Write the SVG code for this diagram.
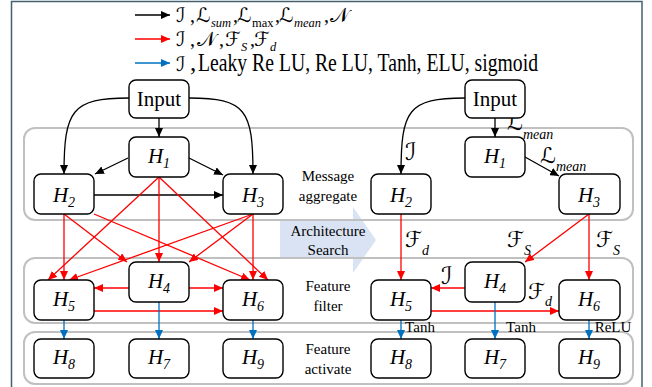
<svg xmlns="http://www.w3.org/2000/svg" width="652" height="387" viewBox="0 0 652 387">
  <style>
    .frame { fill: none; stroke: #44606e; stroke-width: 1.5; }
    .panel { fill: none; stroke: #c0c0c0; stroke-width: 2; }
    .box { fill: #ffffff; stroke: #000000; stroke-width: 1.4; }
    .lbl { font-family: 'Liberation Serif', 'Times New Roman', serif; fill: #000; }
    .h { font-family: 'Liberation Serif', 'Times New Roman', serif; font-style: italic; font-size: 21px; fill: #000; }
    .sub { font-size: 14px; }
    .cap { font-family: 'Liberation Serif', 'Times New Roman', serif; font-size: 15px; fill: #000; text-anchor: middle; }
    .math { font-family: 'DejaVu Sans', sans-serif; fill: #000; }
    .msub { font-family: 'Liberation Serif', 'Times New Roman', serif; font-style: italic; font-size: 14px; }
    .lsub { font-family: 'Liberation Serif', 'Times New Roman', serif; font-style: italic; font-size: 12.5px; }
    .rm { font-family: 'Liberation Serif', 'Times New Roman', serif; font-style: normal; }
    .k { fill: none; stroke: #000; stroke-width: 1.3; marker-end: url(#ak); }
    .r { fill: none; stroke: #ff0000; stroke-width: 1.3; marker-end: url(#ar); }
    .b { fill: none; stroke: #0070c0; stroke-width: 1.3; marker-end: url(#ab); }
  </style>
  <defs>
    <marker id="ak" markerUnits="userSpaceOnUse" markerWidth="10" markerHeight="8" refX="9" refY="4" orient="auto">
      <path d="M0,0 L9,4 L0,8 Z" fill="#000"/>
    </marker>
    <marker id="ar" markerUnits="userSpaceOnUse" markerWidth="10" markerHeight="8" refX="9" refY="4" orient="auto">
      <path d="M0,0 L9,4 L0,8 Z" fill="#ff0000"/>
    </marker>
    <marker id="ab" markerUnits="userSpaceOnUse" markerWidth="10" markerHeight="8" refX="9" refY="4" orient="auto">
      <path d="M0,0 L9,4 L0,8 Z" fill="#0070c0"/>
    </marker>
  </defs>

  <rect width="652" height="387" fill="#ffffff"/>
  <rect class="frame" x="11.5" y="1.5" width="630.5" height="400"/>

  <!-- legend: edge operation sets per stage -->
  <g id="legend">
    <line class="k" x1="135" y1="15" x2="170" y2="15"/>
    <line class="r" x1="135" y1="39" x2="170" y2="39"/>
    <line class="b" x1="135" y1="63" x2="170" y2="63"/>
    <text class="math" font-size="20" y="22"><tspan x="176">ℐ</tspan><tspan class="rm" x="190">,</tspan><tspan x="196">ℒ</tspan><tspan class="lsub" x="211" y="27">sum</tspan><tspan class="rm" x="233" y="22">,</tspan><tspan x="237">ℒ</tspan><tspan class="rm" font-size="12.5" x="252" y="27">max</tspan><tspan class="rm" x="275" y="22">,</tspan><tspan x="279">ℒ</tspan><tspan class="lsub" x="294" y="27">mean</tspan><tspan class="rm" x="324" y="22">,</tspan><tspan x="330">𝒩</tspan></text>
    <text class="math" font-size="20" y="46"><tspan x="176">ℐ</tspan><tspan class="rm" x="190">,</tspan><tspan x="197">𝒩</tspan><tspan class="rm" x="219">,</tspan><tspan x="225">ℱ</tspan><tspan class="lsub" x="241" y="51">S</tspan><tspan class="rm" x="250" y="46">,</tspan><tspan x="254">ℱ</tspan><tspan class="lsub" x="270" y="51">d</tspan></text>
    <text class="math" font-size="20" x="176" y="71">ℐ</text>
    <text class="lbl" font-size="25" x="190" y="71">,</text>
    <text class="lbl" font-size="25" x="198" y="71" textLength="340" lengthAdjust="spacingAndGlyphs">Leaky Re LU, Re LU, Tanh, ELU, sigmoid</text>
  </g>

  <!-- search arrow between the two networks -->
  <path d="M280,221 L353,221 L353,207 L376,240 L353,273 L353,258 L280,258 Z" fill="#dae3f3"/>

  <!-- stage panels -->
  <rect class="panel" x="24" y="128" width="609" height="92" rx="11"/>
  <rect class="panel" x="24" y="258" width="609" height="65" rx="11"/>
  <rect class="panel" x="24" y="332" width="609" height="52" rx="11"/>

  <text class="cap"><tspan x="328" y="181">Message</tspan><tspan x="328" y="201">aggregate</tspan></text>
  <text class="cap" font-size="16"><tspan x="328" y="236">Architecture</tspan><tspan x="328" y="255">Search</tspan></text>
  <text class="cap"><tspan x="328" y="291">Feature</tspan><tspan x="328" y="311">filter</tspan></text>
  <text class="cap"><tspan x="328" y="354">Feature</tspan><tspan x="328" y="374">activate</tspan></text>

  <!-- connectors -->
  <g id="connectors">
    <!-- supernet: aggregation -->
    <path class="k" d="M129,98 C72,98 64,110 64,174"/>
    <path class="k" d="M189,98 C246,98 253,110 253,174"/>
    <path class="k" d="M159,118 L159,137"/>
    <path class="k" d="M128,158 L95,174"/>
    <path class="k" d="M189,158 L223,175"/>
    <path class="k" d="M94,195 L223,195"/>
    <!-- supernet: filter -->
    <path class="r" d="M64,214 L64,280"/>
    <path class="r" d="M64,214 L127,262"/>
    <path class="r" d="M94,214 L250,280"/>
    <path class="r" d="M159,177 L48,280"/>
    <path class="r" d="M159,177 L159,262"/>
    <path class="r" d="M159,177 L268,280"/>
    <path class="r" d="M253,214 L69,280"/>
    <path class="r" d="M253,214 L189,262"/>
    <path class="r" d="M253,214 L253,280"/>
    <path class="r" d="M129,288 L94,288"/>
    <path class="r" d="M188,288 L223,288"/>
    <path class="r" d="M94,311 L223,311"/>
    <!-- supernet: activation -->
    <path class="b" d="M64,320 L64,339"/>
    <path class="b" d="M159,302 L159,339"/>
    <path class="b" d="M253,320 L253,339"/>

    <!-- searched architecture -->
    <path class="k" d="M465,98 C408,98 401,110 401,174"/>
    <path class="k" d="M495,118 L495,137"/>
    <path class="k" d="M525,157 L559,176"/>
    <path class="r" d="M401,214 L401,280"/>
    <path class="r" d="M589,214 L589,280"/>
    <path class="r" d="M589,214 L525,262"/>
    <path class="r" d="M465,288 L431,288"/>
    <path class="r" d="M431,311 L559,311"/>
    <path class="b" d="M401,320 L401,339"/>
    <path class="b" d="M495,302 L495,339"/>
    <path class="b" d="M589,320 L589,339"/>
  </g>

  <!-- edge labels of the searched architecture -->
  <g id="edge-labels">
    <text class="math" font-size="24" x="405" y="160">ℐ</text>
    <text class="math" font-size="22" x="507" y="130">ℒ</text>
    <text class="msub" x="523" y="139">mean</text>
    <text class="math" font-size="22" x="540" y="163">ℒ</text>
    <text class="msub" x="556" y="171">mean</text>
    <text class="math" font-size="22" x="405" y="247">ℱ</text>
    <text class="msub" x="422" y="255">d</text>
    <text class="math" font-size="22" x="507" y="247">ℱ</text>
    <text class="msub" x="524" y="255">S</text>
    <text class="math" font-size="22" x="596" y="247">ℱ</text>
    <text class="msub" x="613" y="255">S</text>
    <text class="math" font-size="24" x="441" y="284">ℐ</text>
    <text class="math" font-size="22" x="528" y="299">ℱ</text>
    <text class="msub" x="545" y="306">d</text>
    <text class="cap" x="420" y="332">Tanh</text>
    <text class="cap" x="521" y="332">Tanh</text>
    <text class="cap" x="613" y="332">ReLU</text>
  </g>

  <!-- supernet nodes -->
  <g id="input-a"><rect class="box" x="129" y="80" width="60" height="38" rx="7"/><text class="lbl" font-size="21" x="159" y="106" text-anchor="middle">Input</text></g>
  <g id="h1-a"><rect class="box" x="129" y="137" width="60" height="40" rx="7"/><text class="h" x="159" y="163" text-anchor="middle">H<tspan class="sub" dy="5">1</tspan></text></g>
  <g id="h2-a"><rect class="box" x="34" y="174" width="60" height="40" rx="7"/><text class="h" x="64" y="202" text-anchor="middle">H<tspan class="sub" dy="5">2</tspan></text></g>
  <g id="h3-a"><rect class="box" x="223" y="174" width="60" height="40" rx="7"/><text class="h" x="253" y="202" text-anchor="middle">H<tspan class="sub" dy="5">3</tspan></text></g>
  <g id="h4-a"><rect class="box" x="129" y="262" width="60" height="40" rx="7"/><text class="h" x="159" y="288" text-anchor="middle">H<tspan class="sub" dy="5">4</tspan></text></g>
  <g id="h5-a"><rect class="box" x="34" y="280" width="60" height="40" rx="7"/><text class="h" x="64" y="306" text-anchor="middle">H<tspan class="sub" dy="5">5</tspan></text></g>
  <g id="h6-a"><rect class="box" x="223" y="280" width="60" height="40" rx="7"/><text class="h" x="253" y="306" text-anchor="middle">H<tspan class="sub" dy="5">6</tspan></text></g>
  <g id="h8-a"><rect class="box" x="34" y="339" width="60" height="39" rx="7"/><text class="h" x="64" y="364" text-anchor="middle">H<tspan class="sub" dy="5">8</tspan></text></g>
  <g id="h7-a"><rect class="box" x="129" y="339" width="60" height="39" rx="7"/><text class="h" x="159" y="364" text-anchor="middle">H<tspan class="sub" dy="5">7</tspan></text></g>
  <g id="h9-a"><rect class="box" x="223" y="339" width="60" height="39" rx="7"/><text class="h" x="253" y="364" text-anchor="middle">H<tspan class="sub" dy="5">9</tspan></text></g>

  <!-- searched architecture nodes -->
  <g id="input-b"><rect class="box" x="465" y="80" width="60" height="38" rx="7"/><text class="lbl" font-size="21" x="495" y="106" text-anchor="middle">Input</text></g>
  <g id="h1-b"><rect class="box" x="465" y="137" width="60" height="40" rx="7"/><text class="h" x="495" y="163" text-anchor="middle">H<tspan class="sub" dy="5">1</tspan></text></g>
  <g id="h2-b"><rect class="box" x="371" y="174" width="60" height="40" rx="7"/><text class="h" x="401" y="202" text-anchor="middle">H<tspan class="sub" dy="5">2</tspan></text></g>
  <g id="h3-b"><rect class="box" x="559" y="174" width="61" height="40" rx="7"/><text class="h" x="589" y="202" text-anchor="middle">H<tspan class="sub" dy="5">3</tspan></text></g>
  <g id="h4-b"><rect class="box" x="465" y="262" width="60" height="40" rx="7"/><text class="h" x="495" y="288" text-anchor="middle">H<tspan class="sub" dy="5">4</tspan></text></g>
  <g id="h5-b"><rect class="box" x="371" y="280" width="60" height="40" rx="7"/><text class="h" x="401" y="306" text-anchor="middle">H<tspan class="sub" dy="5">5</tspan></text></g>
  <g id="h6-b"><rect class="box" x="559" y="280" width="61" height="40" rx="7"/><text class="h" x="589" y="306" text-anchor="middle">H<tspan class="sub" dy="5">6</tspan></text></g>
  <g id="h8-b"><rect class="box" x="371" y="339" width="60" height="39" rx="7"/><text class="h" x="401" y="364" text-anchor="middle">H<tspan class="sub" dy="5">8</tspan></text></g>
  <g id="h7-b"><rect class="box" x="465" y="339" width="60" height="39" rx="7"/><text class="h" x="495" y="364" text-anchor="middle">H<tspan class="sub" dy="5">7</tspan></text></g>
  <g id="h9-b"><rect class="box" x="559" y="339" width="61" height="39" rx="7"/><text class="h" x="589" y="364" text-anchor="middle">H<tspan class="sub" dy="5">9</tspan></text></g>
</svg>
